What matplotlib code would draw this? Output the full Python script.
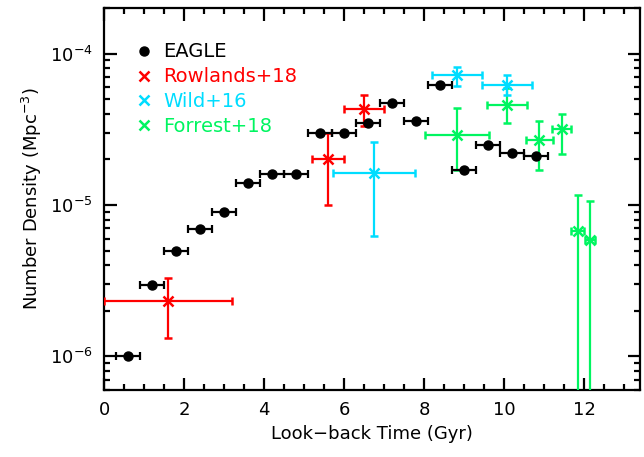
import numpy as np
import matplotlib
matplotlib.use('Agg')
import matplotlib.pyplot as plt
from matplotlib.lines import Line2D
from matplotlib.ticker import LogLocator, MultipleLocator

# EAGLE
eagle_t = [0.6, 1.2, 1.8, 2.4, 3.0, 3.6, 4.2, 4.8, 5.4, 6.0, 6.6, 7.2, 7.8, 8.4, 9.0, 9.6, 10.2, 10.8]
eagle_n = [1.0e-6, 2.95e-6, 4.95e-6, 6.9e-6, 8.95e-6, 1.39e-5, 1.6e-5, 1.6e-5, 3.0e-5, 3.0e-5,
           3.5e-5, 4.7e-5, 3.6e-5, 6.2e-5, 1.7e-5, 2.5e-5, 2.2e-5, 2.1e-5]
eagle_terr = 0.3

# Rowlands+18
row_t = [1.6, 5.6, 6.5]
row_terr = [1.6, 0.4, 0.5]
row_n = [2.31e-6, 2.0e-5, 4.3e-5]
row_lo = [1.33e-6, 1.0e-5, 3.3e-5]
row_hi = [3.3e-6, 3.0e-5, 5.3e-5]

# Wild+16
wild_t = [6.75, 8.83, 10.07]
wild_terr = [1.03, 0.62, 0.63]
wild_n = [1.62e-5, 7.2e-5, 6.2e-5]
wild_lo = [6.2e-6, 6.1e-5, 5.3e-5]
wild_hi = [2.6e-5, 8.1e-5, 7.2e-5]

# Forrest+18
forr_t = [8.83, 10.07, 10.88, 11.44, 11.84, 12.15]
forr_terr = [0.8, 0.5, 0.34, 0.24, 0.17, 0.12]
forr_n = [2.88e-5, 4.6e-5, 2.69e-5, 3.17e-5, 6.7e-6, 5.9e-6]
forr_lo = [1.7e-5, 3.5e-5, 1.7e-5, 2.17e-5, 1e-8, 1e-8]
forr_hi = [4.4e-5, 5.9e-5, 3.6e-5, 4.0e-5, 1.16e-5, 1.07e-5]

RED = '#FF0000'
CYAN = '#00DDFF'
GREEN = '#00F560'

plt.rcParams['font.family'] = ['DejaVu Sans']

fig = plt.figure(figsize=(6.44, 4.57), dpi=100)
ax = fig.add_axes([0.1615, 0.1466, 0.8323, 0.836])


def draw(t, n, terr, lo, hi, color, marker, ms):
    n = np.array(n)
    yerr = [n - np.array(lo), np.array(hi) - n]
    ax.errorbar(t, n, xerr=terr, yerr=yerr, fmt=marker, color=color, ms=ms, mew=1.8,
                elinewidth=1.6, capsize=3, capthick=1.6, zorder=3)


draw(forr_t, forr_n, forr_terr, forr_lo, forr_hi, GREEN, 'x', 7)
draw(wild_t, wild_n, wild_terr, wild_lo, wild_hi, CYAN, 'x', 7)
draw(row_t, row_n, row_terr, row_lo, row_hi, RED, 'x', 7)
ax.errorbar(eagle_t, eagle_n, xerr=eagle_terr, fmt='o', color='black', ms=6.5,
            elinewidth=1.6, capsize=3, capthick=1.6, zorder=4)

ax.set_yscale('log')
ax.set_xlim(0, 13.4)
ax.set_ylim(6e-7, 2e-4)
ax.xaxis.set_major_locator(MultipleLocator(2))
ax.xaxis.set_minor_locator(MultipleLocator(0.5))
ax.yaxis.set_major_locator(LogLocator(base=10))
ax.yaxis.set_minor_locator(LogLocator(base=10, subs=np.arange(2, 10)))
ax.tick_params(which='both', direction='in', top=True, right=True, width=1.6, labelsize=13, pad=8)
ax.tick_params(which='major', length=9)
ax.tick_params(which='minor', length=4.5)
for s in ax.spines.values():
    s.set_linewidth(1.6)

ax.set_xlabel('Look\u2212back Time (Gyr)', fontsize=13)
ax.set_ylabel('Number Density (Mpc$^{-3}$)', fontsize=13)

handles = [
    Line2D([], [], ls='none', marker='o', color='black', ms=6.5),
    Line2D([], [], ls='none', marker='x', color=RED, ms=6.5, mew=1.8),
    Line2D([], [], ls='none', marker='x', color=CYAN, ms=6.5, mew=1.8),
    Line2D([], [], ls='none', marker='x', color=GREEN, ms=6.5, mew=1.8),
]
labels = ['EAGLE', 'Rowlands+18', 'Wild+16', 'Forrest+18']
leg = ax.legend(handles, labels, loc='upper left', frameon=False, fontsize=14,
                handlelength=0.8, handletextpad=0.6, labelspacing=0.3,
                bbox_to_anchor=(0.045, 0.93), borderaxespad=0)
for txt, c in zip(leg.get_texts(), ['black', RED, CYAN, GREEN]):
    txt.set_color(c)

fig.savefig('out.png', dpi=100)
